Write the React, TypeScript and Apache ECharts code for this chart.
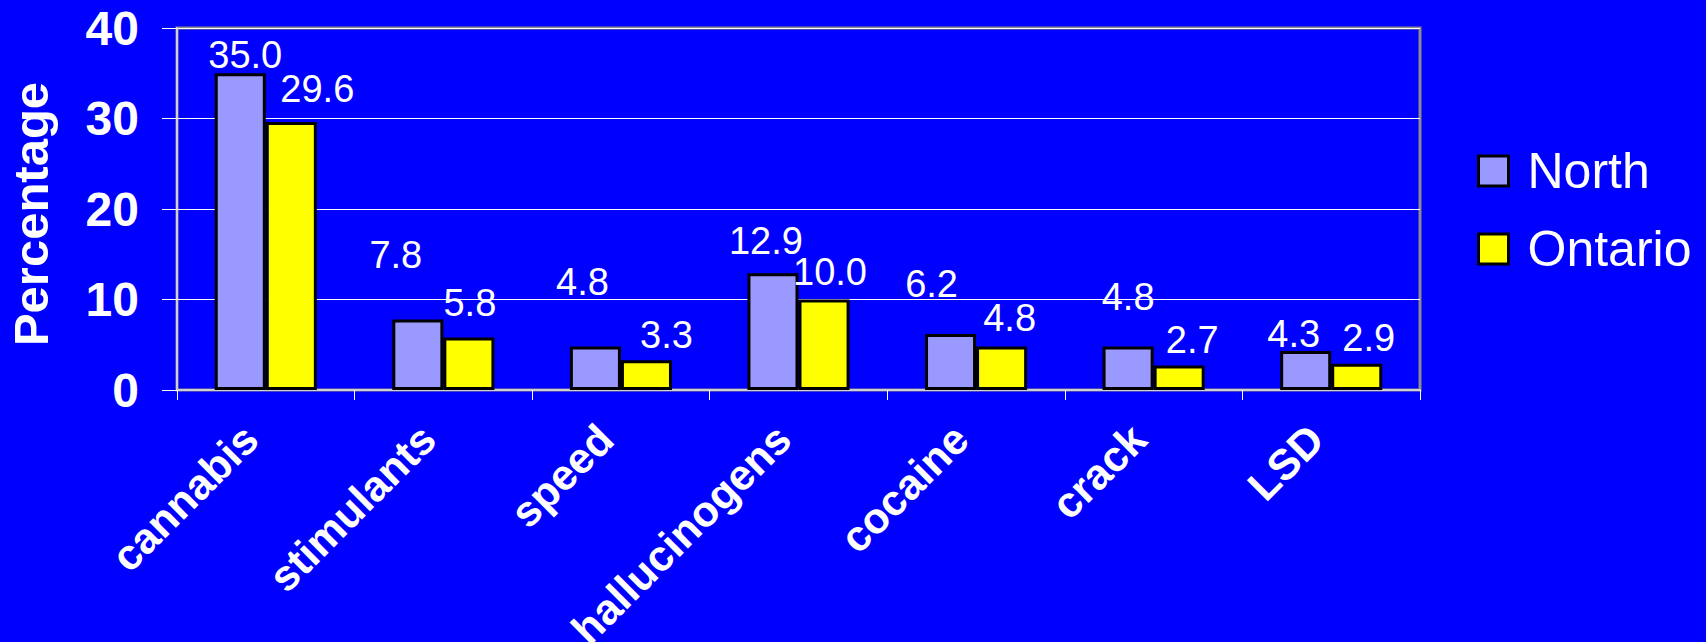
import React, { useEffect, useRef } from "react";
import * as echarts from "echarts";

const categories = ["cannabis", "stimulants", "speed", "hallucinogens", "cocaine", "crack", "LSD"];
const northValues = [35.0, 7.8, 4.8, 12.9, 6.2, 4.8, 4.3];
const ontarioValues = [29.6, 5.8, 3.3, 10.0, 4.8, 2.7, 2.9];
const yTicks = [0, 10, 20, 30, 40];
const seriesNames = ["North", "Ontario"];

// label placement (layout only): [dx, gap above bar top]
const northLabelShift = [[5, 3], [-22, 49], [-13, 50], [-7, 17], [-19, 35], [0, 35], [-12, 2]];
const ontarioLabelShift = [[26, 18], [1, 20], [20, 10], [6, 13], [8, 14], [13, 11], [12, 11]];

const FONT = "'Liberation Sans', Arial, Helvetica, sans-serif";
const LABEL_BASE = 4;

function buildData(values: number[], shifts: number[][]) {
  return values.map((v, i) => ({
    value: v,
    label: { offset: [shifts[i][0], -(shifts[i][1] - LABEL_BASE)] },
  }));
}

export default function App() {
  const ref = useRef<HTMLDivElement>(null);
  useEffect(() => {
    if (!ref.current) return;
    const chart = echarts.init(ref.current, null, { renderer: "svg" });
    const labelCommon = {
      show: true,
      position: "top",
      distance: 0,
      color: "#ffffff",
      fontFamily: FONT,
      fontSize: 38,
      formatter: (p: any) => Number(p.value).toFixed(1),
    };
    chart.setOption({
      animation: false,
      backgroundColor: "#0000ff",
      grid: {
        left: 177,
        right: 286,
        top: 28,
        bottom: 252,
        containLabel: false,
        outerBoundsMode: "none",
        show: true,
        borderColor: "#8c8c8c",
        borderWidth: 3,
        backgroundColor: "transparent",
      },
      legend: {
        orient: "vertical",
        left: 1477,
        top: 146,
        padding: 0,
        itemWidth: 30,
        itemHeight: 30,
        itemGap: 28,
        icon: "rect",
        data: seriesNames,
        itemStyle: { borderColor: "#000000", borderWidth: 3 },
        textStyle: { color: "#ffffff", fontSize: 50, fontFamily: FONT, padding: [0, 0, 0, 14] },
      },
      xAxis: {
        type: "category",
        data: categories,
        axisLine: { show: true, lineStyle: { color: "#d0d0d0", width: 2 } },
        axisTick: { show: true, alignWithLabel: false, length: 10, lineStyle: { color: "#ffffff", width: 1 } },
        axisLabel: {
          interval: 0,
          rotate: 45,
          margin: 57,
          verticalAlign: "bottom",
          color: "#ffffff",
          fontWeight: "bold",
          fontSize: 43,
          fontFamily: FONT,
        },
      },
      yAxis: {
        type: "value",
        min: yTicks[0],
        max: yTicks[yTicks.length - 1],
        interval: 10,
        name: "Percentage",
        nameLocation: "middle",
        nameGap: 122,
        nameTextStyle: {
          color: "#ffffff",
          fontWeight: "bold",
          fontSize: 49,
          fontFamily: FONT,
          padding: [0, 10, 0, 0],
        },
        axisLine: { show: true, lineStyle: { color: "#d0d0d0", width: 2 } },
        axisTick: { show: true, length: 15, lineStyle: { color: "#ffffff", width: 1 } },
        axisLabel: {
          margin: 38,
          color: "#ffffff",
          fontWeight: "bold",
          fontSize: 48,
          fontFamily: FONT,
        },
        splitLine: { show: true, lineStyle: { color: "#ffffff", width: 1 } },
      },
      series: [
        {
          name: seriesNames[0],
          type: "bar",
          data: buildData(northValues, northLabelShift),
          barGap: "0%",
          barCategoryGap: "42.5%",
          itemStyle: { color: "#9999ff", borderColor: "#000000", borderWidth: 3 },
          label: labelCommon,
        },
        {
          name: seriesNames[1],
          type: "bar",
          data: buildData(ontarioValues, ontarioLabelShift),
          barGap: "0%",
          barCategoryGap: "42.5%",
          itemStyle: { color: "#ffff00", borderColor: "#000000", borderWidth: 3 },
          label: labelCommon,
        },
      ],
    });
    return () => chart.dispose();
  }, []);
  return (
    <div
      ref={ref}
      style={{ position: "fixed", left: 0, top: 0, width: 1706, height: 642 }}
    />
  );
}
